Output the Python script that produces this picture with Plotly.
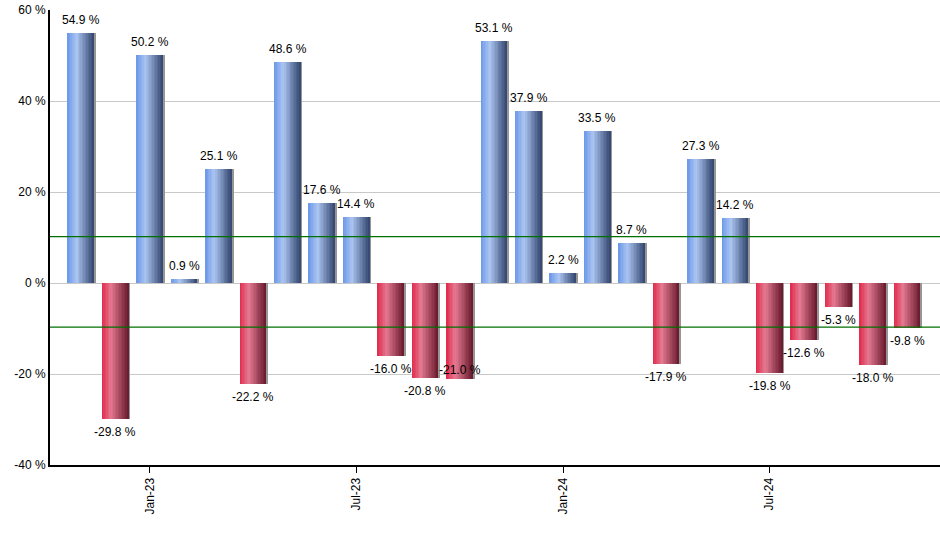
import plotly.graph_objects as go

months = ["Nov-22", "Dec-22", "Jan-23", "Feb-23", "Mar-23", "Apr-23", "May-23", "Jun-23",
          "Jul-23", "Aug-23", "Sep-23", "Oct-23", "Nov-23", "Dec-23", "Jan-24", "Feb-24",
          "Mar-24", "Apr-24", "May-24", "Jun-24", "Jul-24", "Aug-24", "Sep-24", "Oct-24", "Nov-24"]
returns = [54.9, -29.8, 50.2, 0.9, 25.1, -22.2, 48.6, 17.6, 14.4, -16.0, -20.8, -21.0,
           53.1, 37.9, 2.2, 33.5, 8.7, -17.9, 27.3, 14.2, -19.8, -12.6, -5.3, -18.0, -9.8]
tick_labels = ["Jan-23", "Jul-23", "Jan-24", "Jul-24"]
ref_lines = [10.2, -9.7]
y_ticks = [-40, -20, 0, 20, 40, 60]

# gradient stops (position across bar width, colour)
blue_stops = [(0.0, (105, 150, 232)), (0.35, (172, 198, 242)), (1.0, (50, 70, 110))]
red_stops = [(0.0, (225, 40, 75)), (0.35, (228, 122, 146)), (1.0, (105, 25, 45))]


def interp(stops, t):
    for (p0, c0), (p1, c1) in zip(stops[:-1], stops[1:]):
        if p0 <= t <= p1:
            f = (t - p0) / (p1 - p0)
            return "rgb(%d,%d,%d)" % tuple(round(a + (b - a) * f) for a, b in zip(c0, c1))
    return "rgb(%d,%d,%d)" % stops[-1][1]


W = 0.76
N = 18
fig = go.Figure()

# shadow
fig.add_trace(go.Bar(x=months, y=returns, width=W, offset=-W / 2 + 0.05,
                     marker=dict(color="rgb(150,150,150)", line=dict(width=0)),
                     hoverinfo="skip", showlegend=False))

pos = [v if v >= 0 else None for v in returns]
neg = [v if v < 0 else None for v in returns]
for i in range(N):
    t = (i + 0.5) / N
    for vals, stops in ((pos, blue_stops), (neg, red_stops)):
        fig.add_trace(go.Bar(x=months, y=vals, width=W / N * 1.08, offset=-W / 2 + i * W / N,
                             marker=dict(color=interp(stops, t), line=dict(width=0)),
                             hoverinfo="skip", showlegend=False))

# value labels (the reference's label placer nudged one label up to avoid its neighbour)
prev = None
for m, v in zip(months, returns):
    shift = 13 if v >= 0 else -13
    if prev is not None and v < 0 and prev < 0 and abs(v - prev) < 1.0:
        shift = 9
    fig.add_annotation(x=m, y=v, text="%.1f %%" % v, showarrow=False,
                       yanchor="middle", yshift=shift,
                       font=dict(family="Liberation Sans, Arial", size=12, color="black"))
    prev = v

for v in ref_lines:
    fig.add_shape(type="line", xref="paper", x0=0, x1=1, yref="y", y0=v, y1=v,
                  line=dict(color="rgb(0,112,0)", width=1.2), layer="above")

fig.update_layout(
    width=940, height=550,
    margin=dict(l=50, r=0, t=10, b=85, autoexpand=False),
    barmode="overlay", bargap=0,
    plot_bgcolor="white", paper_bgcolor="white",
    font=dict(family="Liberation Sans, Arial", size=12, color="black"),
)
fig.update_xaxes(type="category", range=[-0.9, 24.95], tickmode="array",
                 tickvals=tick_labels, ticktext=tick_labels, tickangle=-90,
                 ticks="outside", ticklen=6, tickcolor="black",
                 showline=True, linecolor="black", linewidth=2, showgrid=False,
                 tickfont=dict(size=12))
fig.update_yaxes(range=[-40, 60], tickmode="array", tickvals=y_ticks,
                 ticktext=["%d %%" % v for v in y_ticks],
                 showgrid=True, gridcolor="rgb(200,200,200)", gridwidth=1,
                 zeroline=True, zerolinecolor="rgb(200,200,200)", zerolinewidth=1,
                 showline=True, linecolor="black", linewidth=2,
                 ticks="", tickfont=dict(size=12))

# remove the page's default 8px body margin so the figure sits at the window's top-left
fig.write_html("out.html", config={"displayModeBar": False},
               post_script="document.body.style.margin='0';")
